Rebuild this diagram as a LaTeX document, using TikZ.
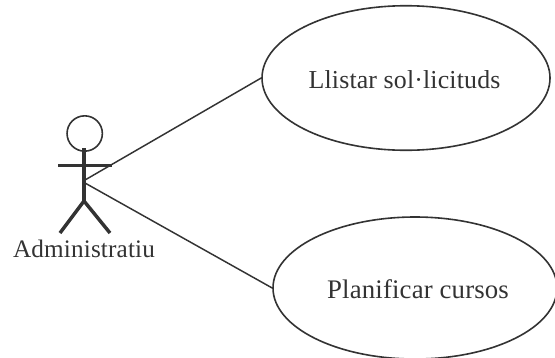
\documentclass[tikz,border=0pt]{standalone}
\usepackage{fontspec}
\setmainfont[LetterSpace=0.6]{Liberation Serif}
\usetikzlibrary{shapes.geometric}
\definecolor{ink}{HTML}{333333}
\tikzset{usecase/.style={draw=ink,ellipse,line width=1.2pt,inner sep=0pt},
limb/.style={draw=ink,line width=2.6pt},conn/.style={draw=ink,line width=1.1pt},txt/.style={text=ink,font=\fontsize{#1}{21pt}\selectfont,inner sep=0pt,anchor=base}}
\begin{document}
\begin{tikzpicture}[x=0.75pt,y=-0.75pt]
\useasboundingbox (0,0) rectangle (555,357);
\fill[white] (0,0) rectangle (555,357);
\node[usecase,minimum width=216pt,minimum height=108.4pt] (a) at (406,78) {};
\node[txt=19.4pt] at (404.5,88) {Llistar sol·licituds};
\node[usecase,minimum width=213pt,minimum height=106.5pt] (b) at (415,288) {};
\node[txt=20.1pt] at (418,298) {Planificar cursos};
\coordinate (n1) at (85,180);
\coordinate (n2) at (85,183);
\coordinate (neck) at (84,148);
\coordinate (lf) at (60,233);
\coordinate (rf) at (110,233);
\coordinate (h) at (84,201);
\coordinate (al) at (58,165.7);
\coordinate (ar) at (112,165.7);
\draw[conn] (n1) -- (a.west);
\draw[conn] (n2) -- (b.west);
\node[draw=ink,circle,line width=1.2pt,minimum size=26.5pt,inner sep=0pt] (head) at (84.7,133.5) {};
\draw[limb] (neck) -- (h);
\draw[limb] (al) -- (ar);
\draw[limb] (lf) -- (h) -- (rf);
\node[txt=18.9pt] (lab) at (84,257.7) {Administratiu};
\end{tikzpicture}
\end{document}
